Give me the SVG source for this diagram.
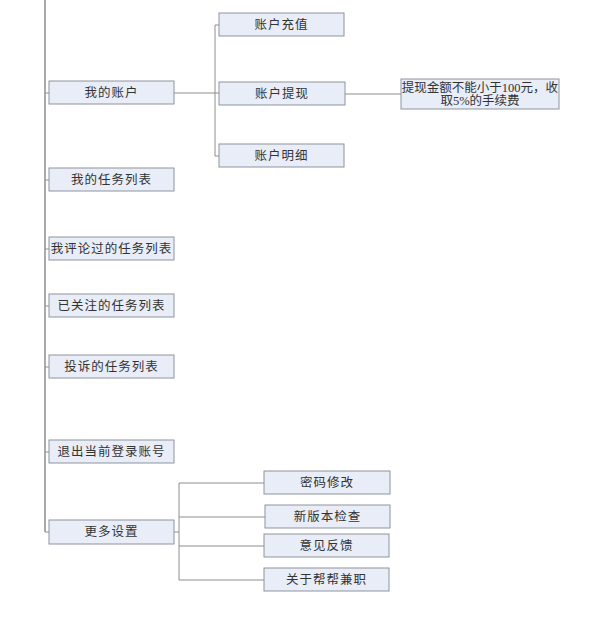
<svg xmlns="http://www.w3.org/2000/svg" width="606" height="618" viewBox="0 0 606 618">
<style>
rect{fill:#e8edf7;stroke:#8e949c;stroke-width:1}
text{font-family:"Liberation Serif","Noto Sans CJK SC",serif;font-size:12.5px;fill:#333;text-anchor:middle;letter-spacing:1px}
.nt{letter-spacing:0}
.c line,.c path{stroke:#8e8e8e;fill:none;stroke-width:1}
</style>
<rect width="606" height="618" fill="#fff" style="fill:#fff;stroke:none"/>
<g class="c" id="connectors">
<line x1="45" y1="0" x2="45" y2="532" style="stroke-width:1.5"/>
<path d="M45 93H49M45 180H49M45 249H49M45 306H49M45 367H49M45 452H49M45 532H49"/>
<path d="M174 93H219M215 25V156M215 25H219M215 156H219"/>
<path d="M345 94H401"/>
<path d="M174 532H179M179 483V580M179 483H264M179 517H265M179 546H264M179 580H264"/>
</g>
<g id="n1"><rect x="49" y="81" width="125" height="23"/><text x="111.5" y="97">我的账户</text></g>
<g id="n2"><rect x="49" y="168" width="125" height="23"/><text x="111.5" y="184">我的任务列表</text></g>
<g id="n3"><rect x="49" y="237" width="125" height="23"/><text x="111.5" y="253">我评论过的任务列表</text></g>
<g id="n4"><rect x="49" y="294" width="125" height="23"/><text x="111.5" y="310">已关注的任务列表</text></g>
<g id="n5"><rect x="49" y="355" width="125" height="23"/><text x="111.5" y="371">投诉的任务列表</text></g>
<g id="n6"><rect x="49" y="440" width="125" height="23"/><text x="111.5" y="456">退出当前登录账号</text></g>
<g id="n7"><rect x="49" y="520" width="125" height="24"/><text x="111.5" y="536">更多设置</text></g>
<g id="a1"><rect x="219" y="13" width="125" height="23"/><text x="281.5" y="29">账户充值</text></g>
<g id="a2"><rect x="219" y="82" width="126" height="23"/><text x="282" y="98">账户提现</text></g>
<g id="a3"><rect x="219" y="144" width="125" height="23"/><text x="281.5" y="160">账户明细</text></g>
<g id="note"><rect x="401" y="79" width="158" height="30"/><text class="nt" x="480" y="91.5">提现金额不能小于100元，收</text><text class="nt" x="480" y="104.5">取5%的手续费</text></g>
<g id="s1"><rect x="264" y="471" width="126" height="23"/><text x="327" y="487">密码修改</text></g>
<g id="s2"><rect x="265" y="505" width="125" height="23"/><text x="327.5" y="521">新版本检查</text></g>
<g id="s3"><rect x="264" y="534" width="125" height="23"/><text x="326.5" y="550">意见反馈</text></g>
<g id="s4"><rect x="264" y="568" width="125" height="23"/><text x="326.5" y="584">关于帮帮兼职</text></g>
</svg>
